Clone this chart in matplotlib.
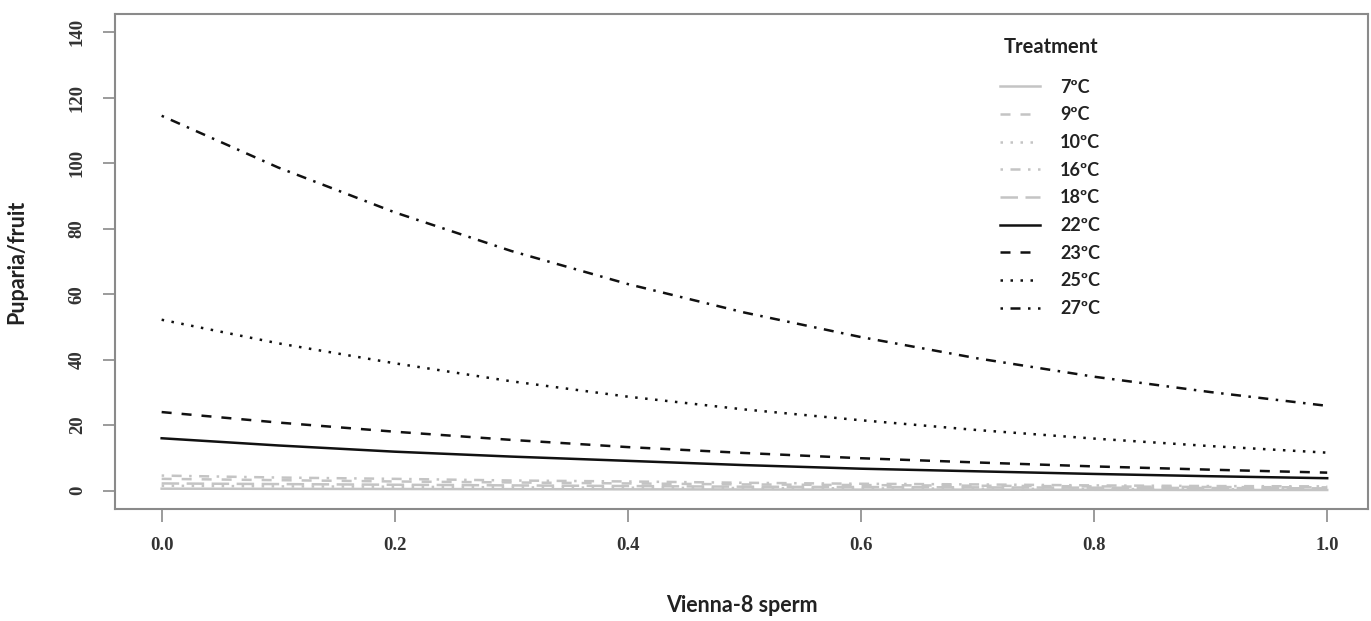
import numpy as np
import matplotlib.pyplot as plt

# Proportion of Vienna-8 sperm (x) and fitted puparia per fruit for each temperature
sperm = [0.0, 0.1, 0.2, 0.3, 0.4, 0.5, 0.6, 0.7, 0.8, 0.9, 1.0]

treatments = ['7ºC', '9ºC', '10ºC', '16ºC', '18ºC', '22ºC', '23ºC', '25ºC', '27ºC']

t7 = [0.6, 0.55, 0.5, 0.45, 0.4, 0.35, 0.3, 0.3, 0.25, 0.2, 0.2]
t9 = [3.6, 3.2, 2.8, 2.5, 2.2, 1.9, 1.7, 1.5, 1.3, 1.1, 1.0]
t10 = [1.5, 1.3, 1.2, 1.0, 0.9, 0.8, 0.7, 0.6, 0.5, 0.45, 0.4]
t16 = [4.6, 4.0, 3.6, 3.1, 2.8, 2.4, 2.1, 1.9, 1.6, 1.4, 1.3]
t18 = [2.2, 2.0, 1.8, 1.6, 1.4, 1.2, 1.1, 1.0, 0.9, 0.8, 0.7]
t22 = [16.0, 13.8, 11.9, 10.4, 9.1, 7.8, 6.7, 5.9, 5.1, 4.4, 3.8]
t23 = [24.0, 20.8, 18.0, 15.5, 13.3, 11.5, 9.9, 8.6, 7.4, 6.4, 5.5]
t25 = [52.2, 45.0, 38.9, 33.4, 28.7, 24.8, 21.5, 18.5, 15.9, 13.6, 11.6]
t27 = [114.5, 98.7, 85.0, 73.2, 63.1, 54.4, 46.9, 40.4, 34.8, 30.1, 25.9]

series = [t7, t9, t10, t16, t18, t22, t23, t25, t27]
colors = ['#c4c4c4'] * 5 + ['#111111'] * 4
styles = ['-', (0, (4, 4)), (0, (1, 3)), (0, (1, 3, 4, 3)), (0, (7, 3)),
          '-', (0, (4, 4)), (0, (1, 3)), (0, (1, 3, 4, 3))]

fig = plt.figure(figsize=(13.71, 6.21), dpi=100)
ax = fig.add_axes([0.0839, 0.1804, 0.9139, 0.7971])

for vals, lab, c, ls in zip(series, treatments, colors, styles):
    ax.plot(sperm, vals, color=c, linestyle=ls, linewidth=1.8, label=lab)

ax.set_xlim(-0.04, 1.035)
ax.set_ylim(-5.6, 145.6)
ax.set_xticks([0.0, 0.2, 0.4, 0.6, 0.8, 1.0])
ax.set_xticklabels(['0.0', '0.2', '0.4', '0.6', '0.8', '1.0'])
ax.set_yticks(range(0, 141, 20))

for s in ax.spines.values():
    s.set_color('#8a8a8a')
    s.set_linewidth(1.5)
ax.tick_params(colors='#8a8a8a', length=9, width=1.2, labelcolor='#333333')
ax.tick_params(axis='x', pad=11)
ax.tick_params(axis='y', pad=12)
for t in ax.get_xticklabels() + ax.get_yticklabels():
    t.set_fontfamily('Liberation Serif')
    t.set_fontweight('bold')
    t.set_fontsize(13.5)
for t in ax.get_yticklabels():
    t.set_rotation(90)
    t.set_va('center')

ax.set_xlabel('Vienna-8 sperm', fontfamily='Lato', fontweight='bold', fontsize=15.5,
              color='#222222', labelpad=30)
ax.set_ylabel('Puparia/fruit', fontfamily='Lato', fontweight='bold', fontsize=15.5,
              color='#222222', labelpad=30)

# legend title drawn on its own so the entry spacing can be set freely
ax.text(0.709, 0.933, 'Treatment', transform=ax.transAxes, fontfamily='Lato',
        fontweight='bold', fontsize=14.5, color='#222222', va='center', ha='left')
leg = ax.legend(frameon=False, loc='upper left',
                bbox_to_anchor=(0.693, 0.902), handlelength=2.25, handletextpad=1.1,
                labelspacing=0.59, prop={'family': 'Lato', 'weight': 'bold', 'size': 13})
for txt in leg.get_texts():
    txt.set_color('#222222')

fig.savefig('out.png', dpi=100, facecolor='white')
